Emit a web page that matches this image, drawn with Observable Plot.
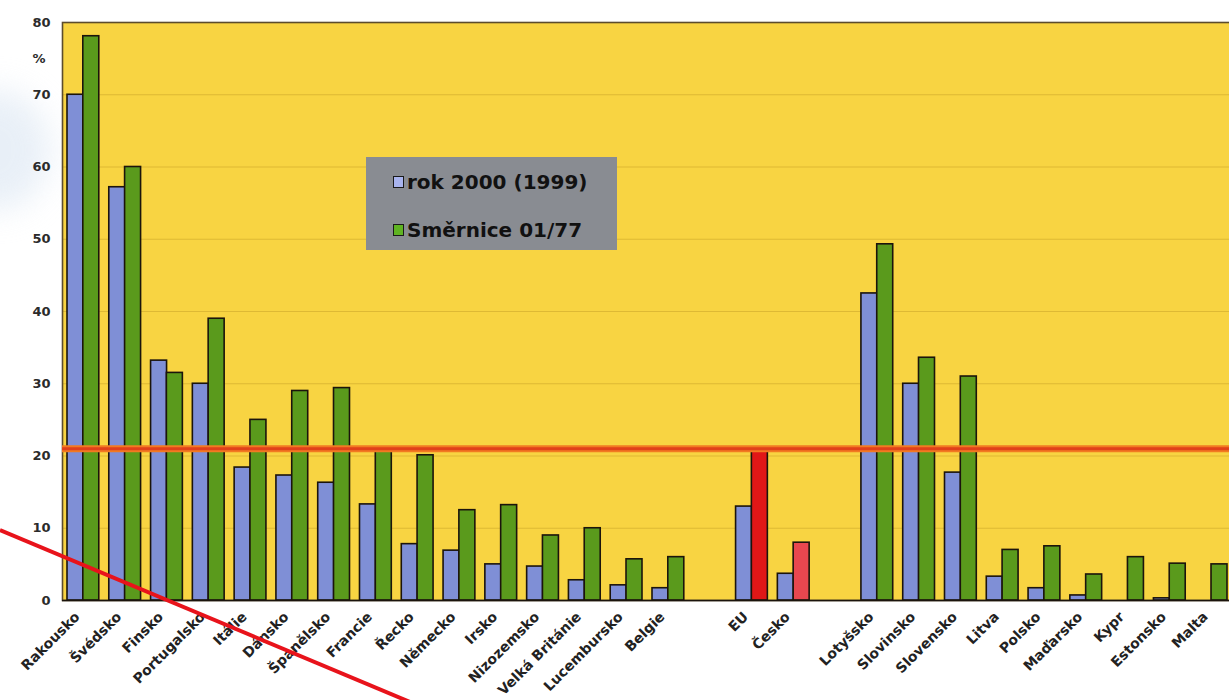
<!DOCTYPE html>
<html>
<head>
<meta charset="utf-8">
<script src="https://cdn.jsdelivr.net/npm/d3@7"></script>
<script src="https://cdn.jsdelivr.net/npm/@observablehq/plot@0.6"></script>
<style>
  html, body { margin: 0; padding: 0; background: #ffffff; }
  #wrap { position: relative; width: 1229px; height: 700px; overflow: hidden; font-family: "DejaVu Sans", Arial, sans-serif; }
  #swoosh { position: absolute; left: -60px; top: 90px; width: 110px; height: 120px; border-radius: 50%;
            background: #dfe9f4; filter: blur(16px); opacity: 0.7; }
  #chart { position: absolute; left: 0; top: 0; }
  #legend { position: absolute; left: 366px; top: 157px; width: 251px; height: 93px; background: #898c92;
            box-sizing: border-box; padding: 13px 0 0 27px; font-weight: bold; font-size: 20px; color: #111; }
  #legend .item { display: flex; align-items: center; height: 24px; margin-bottom: 24px; }
  #legend .sw { width: 9px; height: 10px; border: 1.5px solid #1a1a1a; margin-right: 3px; }
  #overlay { position: absolute; left: 0; top: 0; pointer-events: none; }
</style>
</head>
<body>
<div id="wrap">
  <div id="swoosh"></div>
  <div id="chart"></div>
  <div id="legend"></div>
  <svg id="overlay" width="1229" height="700"><line x1="0" y1="530" x2="410" y2="702" stroke="#e8131b" stroke-width="4"/></svg>
</div>
<script>
// Countries in display order; blank keys keep the gaps between groups.
const countries = ["Rakousko", "Švédsko", "Finsko", "Portugalsko", "Itálie", "Dánsko", "Španělsko",
  "Francie", "Řecko", "Německo", "Irsko", "Nizozemsko", "Velká Británie", "Lucembursko", "Belgie",
  " ", "EU", "Česko", "  ", "Lotyšsko", "Slovinsko", "Slovensko", "Litva", "Polsko", "Maďarsko",
  "Kypr", "Estonsko", "Malta"];

// Share of electricity from renewable sources, year 2000 (1999), %
const share2000 = [70, 57.2, 33.2, 30.0, 18.4, 17.3, 16.3, 13.3, 7.8, 6.9, 5.0, 4.7, 2.8, 2.1, 1.7,
  null, 13.0, 3.7, null, 42.5, 30.0, 17.7, 3.3, 1.7, 0.7, 0, 0.3, null];

// Indicative targets of Directive 2001/77, %
const target = [78.1, 60, 31.5, 39, 25, 29, 29.4, 21, 20.1, 12.5, 13.2, 9, 10, 5.7, 6,
  null, 21, 8, null, 49.3, 33.6, 31, 7, 7.5, 3.6, 6, 5.1, 5];

const seriesNames = ["rok 2000 (1999)", "Směrnice 01/77"];
const yTicks = [0, 10, 20, 30, 40, 50, 60, 70, 80];
const euTarget = 21;

const rows2000 = countries.map((c, i) => ({country: c, value: share2000[i]})).filter(d => d.value != null);
const rowsTarget = countries.map((c, i) => ({country: c, value: target[i]})).filter(d => d.value != null);

const blue = "#7f8fd6", green = "#5a9a1c";
const targetFill = d => d.country === "EU" ? "#e01717" : d.country === "Česko" ? "#e8474f" : green;

const fontFamily = "'DejaVu Sans', 'Liberation Sans', Arial, sans-serif";

const chart = Plot.plot({
  width: 1229,
  height: 700,
  marginLeft: 62,
  marginTop: 22,
  marginBottom: 100,
  marginRight: -3,
  style: {background: "transparent", fontFamily, overflow: "visible"},
  x: {domain: countries, padding: 0, round: false, axis: null, label: null},
  y: {domain: [0, 80], axis: null, label: null},
  marks: [
    Plot.frame({fill: "#f8d442"}),
    Plot.gridY(yTicks, {stroke: "#c9a22a", strokeOpacity: 0.55, strokeWidth: 1}),
    Plot.frame({stroke: "#5c4c2c", strokeWidth: 1.6}),
    Plot.barY(rows2000, {x: "country", y: "value", fill: blue, stroke: "#1b140c", strokeWidth: 1.6,
      insetLeft: 5, insetRight: 20.8}),
    Plot.barY(rowsTarget, {x: "country", y: "value", fill: targetFill, stroke: "#1b140c", strokeWidth: 1.6,
      insetLeft: 20.8, insetRight: 5}),
    Plot.ruleY([euTarget], {stroke: "#f27a22", strokeWidth: 7}),
    Plot.ruleY([euTarget], {stroke: "#e0401a", strokeWidth: 3}),
    Plot.ruleY([0], {stroke: "#1b140c", strokeWidth: 1.6}),
    Plot.axisY({ticks: yTicks, label: null, tickSize: 0, tickPadding: 12, fontSize: 13, fill: "#2b2b2b", fontWeight: "bold"}),
    Plot.text(["%"], {frameAnchor: "top-left", dx: -17, dy: 31, fontSize: 13, fill: "#2b2b2b", fontWeight: "bold", textAnchor: "end"}),
    Plot.axisX({label: null, tickSize: 0, tickPadding: 14, tickRotate: -45, fontSize: 14, fill: "#222", fontWeight: "bold",
      dx: -6, tickFormat: d => d.trim()})
  ]
});
document.getElementById("chart").appendChild(chart);

// Legend box
const legend = document.getElementById("legend");
[[seriesNames[0], "#a9b4ee"], [seriesNames[1], "#5fb322"]].forEach(([name, col]) => {
  const item = document.createElement("div");
  item.className = "item";
  const sw = document.createElement("span");
  sw.className = "sw";
  sw.style.background = col;
  item.appendChild(sw);
  item.appendChild(document.createTextNode(name));
  legend.appendChild(item);
});
</script>
</body>
</html>
